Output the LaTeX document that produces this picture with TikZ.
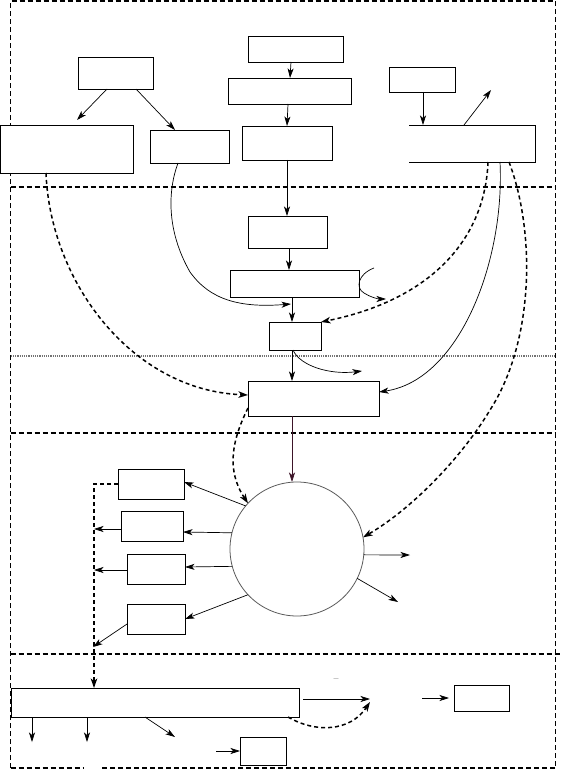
\documentclass[tikz,border=0pt]{standalone}
\usetikzlibrary{arrows.meta,calc}
\definecolor{darkred}{RGB}{60,20,40}
\newcommand\bx[5]{\node[box,anchor=north west,minimum width={#4-#2},minimum height={#5-#3}] (#1) at (#2,#3) {};}
\begin{document}
\begin{tikzpicture}[x=1pt,y=-1pt,
 box/.style={draw,fill=white,line width=0.9pt,inner sep=0pt,outer sep=0pt},
 arr/.style={line width=0.7pt,-{Stealth[length=9.5pt,width=6pt,inset=2.5pt]}},
 darr/.style={line width=1.5pt,dash pattern=on 4pt off 3pt,-{Stealth[length=9.5pt,width=6.5pt,inset=2.5pt]}},
 frameline/.style={line width=1.5pt,dash pattern=on 5pt off 3pt},
 dotline/.style={line width=1.2pt,black!55,dash pattern=on 1.2pt off 1pt}]
\useasboundingbox (0,0) rectangle (561,770);
% frame
\draw[frameline] (10.7,768) -- (10.7,1) -- (555.3,1) -- (555.3,768);
\draw[frameline] (10.7,768) -- (84,768);
\draw[frameline] (102,768) -- (555.3,768);
\draw[frameline] (10.7,187) -- (555.3,187);
\draw[dotline] (10.7,356) -- (555.3,356);
\draw[frameline] (10.7,433) -- (555.3,433);
\draw[frameline] (10.7,654) -- (561,654);
% boxes
\bx{A}{78}{57}{153}{89}
\bx{B}{0.5}{125}{133}{173}
\bx{C}{150}{130}{229}{163}
\bx{D}{248}{36}{343}{62}
\bx{E}{228}{78}{351}{104}
\bx{F}{242}{126}{332}{160}
\bx{G}{389}{67}{455}{92}
\node[anchor=north west,minimum width=126,minimum height=37,inner sep=0pt,outer sep=0pt] (H) at (409,125) {};
\draw[line width=0.9pt] (H.north west) -- (H.north east) -- (H.south east) -- (H.south west);
\bx{I}{248}{216}{327}{248}
\bx{J}{230}{270}{359}{297}
\bx{K}{269}{322}{321}{350}
\bx{L}{248}{381}{379}{416}
\bx{M}{118}{469}{184}{499}
\bx{N}{121}{511}{183}{541}
\bx{O}{127}{554}{185}{584}
\bx{P}{127}{604}{185}{634}
\bx{Q}{11}{688}{299}{717}
\bx{R}{240}{737}{286}{765}
\bx{S}{454}{685}{509}{711}
\node[circle,draw=black!65,line width=0.8pt,minimum size=134pt,inner sep=0pt,outer sep=0pt] (Z) at (297,549) {};
\node (t1) at (336,680) {--};
% free ends
\coordinate (b1) at (77,120);
\coordinate (h1) at (491,90);
\coordinate (c1) at (291,304);
\coordinate (k1) at (362,371);
\coordinate (j0) at (374,268);
\coordinate (j1) at (386,299);
\coordinate (n1) at (94,529);
\coordinate (o1) at (94,570);
\coordinate (p1) at (93,647);
\coordinate (z1) at (410,555);
\coordinate (z2) at (398,602);
\coordinate (q1) at (32,742);
\coordinate (q2) at (87,742);
\coordinate (q3) at (175,737);
\coordinate (r0) at (216,751);
\coordinate (q4) at (370,699);
\coordinate (q5) at (370,702);
\coordinate (s0) at (422,698);
% connectors
\draw[arr] (107,0 |- A.south) -- (b1);
\draw[arr] (136,0 |- A.south) -- (175,0 |- C.north);
\draw[arr] (291,0 |- D.south) -- (290,0 |- E.north);
\draw[arr] (288,0 |- E.south) -- (287,0 |- F.north);
\draw[arr] (287,0 |- F.south) -- (287,0 |- I.north);
\draw[arr] (423,0 |- G.south) -- (423,0 |- H.north);
\draw[arr] (464,0 |- H.north) -- (h1);
\draw[arr] (178,0 |- C.south) .. controls (168,190) and (166,230) .. (190,272) .. controls (210,300) and (240,308) .. (c1);
\draw[arr] (289,0 |- I.south) -- (289,0 |- J.north);
\draw[arr] (292,0 |- J.south) -- (292,0 |- K.north);
\draw[arr] (292,0 |- K.south) -- (292,0 |- L.north);
\draw[arr] (293,0 |- K.south) .. controls (300,366) and (330,375) .. (k1);
\draw[arr] (j0) .. controls (358,274) and (355,288) .. (364,293) .. controls (370,297) and (378,299) .. (j1);
\draw[darr] (488,0 |- H.south) .. controls (485,240) and (430,300) .. (K.north east);
\draw[arr] (500,0 |- H.south) .. controls (505,260) and (460,380) .. (L.east |- 0,392);
\draw[darr] (509,0 |- H.south) .. controls (535,230) and (535,340) .. (490,410) .. controls (460,460) and (410,510) .. (Z.10);
\draw[darr] (46,0 |- B.south) .. controls (50,280) and (130,390) .. (L.west |- 0,395);
\draw[arr,darkred] (292,0 |- L.south) -- (292,0 |- Z.north);
\draw[darr] (L.west |- 0,408) .. controls (232,440) and (226,470) .. (Z.137);
\draw[arr] (Z.140) -- (M.east |- 0,482);
\draw[arr] (Z.166) -- (N.east |- 0,532);
\draw[arr] (Z.195) -- (O.east |- 0,567);
\draw[arr] (Z.223) -- (P.east |- 0,619);
\draw[arr] (N.west |- 0,529) -- (n1);
\draw[arr] (O.west |- 0,570) -- (o1);
\draw[arr] (P.west |- 0,624) -- (p1);
\draw[darr] (M.west |- 0,484) -- (94,484) -- (94,0 |- Q.north);
\draw[arr] (Z.-5) -- (z1);
\draw[arr] (Z.-26) -- (z2);
\draw[arr] (32,0 |- Q.south) -- (q1);
\draw[arr] (87,0 |- Q.south) -- (q2);
\draw[arr] (145,0 |- Q.south) -- (q3);
\draw[arr] (r0) -- (R.west);
\draw[arr] ($(Q.east)+(4,-3.5)$) -- (q4);
\draw[darr] (288,0 |- Q.south) .. controls (315,733) and (350,732) .. (q5);
\draw[arr] (s0) -- ([xshift=-5pt]S.west);
\end{tikzpicture}
\end{document}
